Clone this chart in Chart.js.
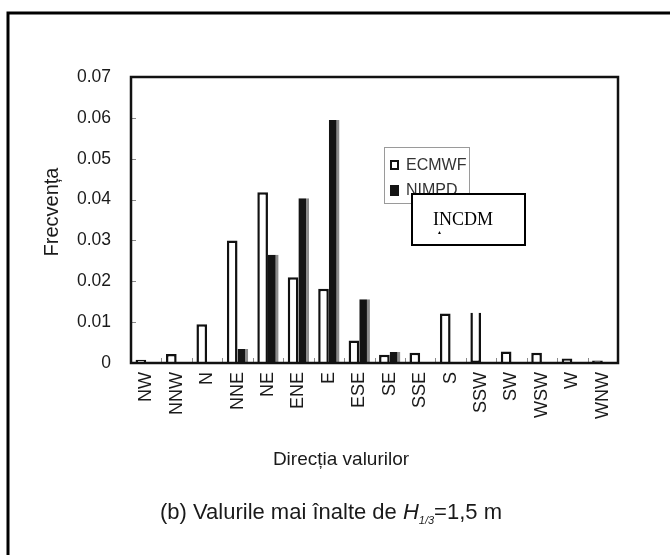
<!DOCTYPE html>
<html>
<head>
<meta charset="utf-8">
<title>Frecventa directiei valurilor</title>
<script src="https://cdn.jsdelivr.net/npm/chart.js@4.4.1/dist/chart.umd.min.js"></script>
<style>
    html, body {
        margin: 0;
        padding: 0;
        background: #fff;
    }
    #wrap {
        width: 670px;
        height: 555px;
    }
</style>
</head>
<body>
<div id="wrap">
    <canvas id="freqChart" width="670" height="555"></canvas>
</div>
<script>
// ===============================
// DATA
// ===============================

const directions = [
    'NW', 'NNW', 'N', 'NNE', 'NE', 'ENE', 'E', 'ESE',
    'SE', 'SSE', 'S', 'SSW', 'SW', 'WSW', 'W', 'WNW'
];

const ecmwf = [
    0.0008, 0.0022, 0.0095, 0.0300, 0.0418, 0.0210, 0.0182, 0.0055,
    0.0020, 0.0025, 0.0121, 0.0123, 0.0028, 0.0025, 0.0011, 0.0006
];

const nimpd = [
    0, 0, 0, 0.0034, 0.0265, 0.0403, 0.0595, 0.0156,
    0.0027, 0, 0, 0, 0, 0, 0, 0
];

const yTicks = [0, 0.01, 0.02, 0.03, 0.04, 0.05, 0.06, 0.07];

const FONT = '"Liberation Sans", Arial, sans-serif';
Chart.defaults.font.family = FONT;
Chart.defaults.color = '#1a1a1a';

// ===============================
// FRAME, INSIDE TICKS, LEGEND, TEXTS
// ===============================

const decorations = {
    id: 'decorations',

    afterDatasetsDraw(chart) {
        const { ctx, chartArea: a, scales: { x, y } } = chart;
        ctx.save();

        // small ticks pointing inside the plot
        ctx.strokeStyle = '#8a8a8a';
        ctx.lineWidth = 1;
        yTicks.forEach(v => {
            if (v <= yTicks[0] || v >= yTicks[yTicks.length - 1]) return;
            const py = Math.round(y.getPixelForValue(v)) + 0.5;
            ctx.beginPath();
            ctx.moveTo(a.left, py);
            ctx.lineTo(a.left + 5, py);
            ctx.stroke();
        });
        const step = x.getPixelForValue(1) - x.getPixelForValue(0);
        for (let i = 1; i < directions.length; i++) {
            const px = Math.round(x.getPixelForValue(i) - step / 2) + 0.5;
            ctx.beginPath();
            ctx.moveTo(px, a.bottom);
            ctx.lineTo(px, a.bottom - 5);
            ctx.stroke();
        }

        // plot box
        ctx.strokeStyle = '#111';
        ctx.lineWidth = 2.5;
        ctx.strokeRect(a.left, a.top, a.right - a.left, a.bottom - a.top);
        ctx.restore();
    },

    afterDraw(chart) {
        const { ctx, chartArea: a } = chart;
        ctx.save();

        // legend box
        const lx = a.left + 253;
        const ly = a.top + 70;
        ctx.fillStyle = '#fff';
        ctx.fillRect(lx, ly, 85, 56);
        ctx.strokeStyle = '#9a9a9a';
        ctx.lineWidth = 1;
        ctx.strokeRect(lx + 0.5, ly + 0.5, 85, 56);

        ctx.font = '16px ' + FONT;
        ctx.textBaseline = 'middle';
        ctx.textAlign = 'left';
        chart.data.datasets.forEach((ds, i) => {
            const cy = ly + 18 + i * 25;
            if (i === 0) {
                ctx.fillStyle = '#fff';
                ctx.fillRect(lx + 6, cy - 5, 9, 10);
                ctx.strokeStyle = '#111';
                ctx.lineWidth = 2;
                ctx.strokeRect(lx + 7, cy - 4, 7, 8);
            } else {
                ctx.fillStyle = ds.backgroundColor;
                ctx.fillRect(lx + 6, cy - 5, 9, 11);
            }
            ctx.fillStyle = '#333';
            ctx.fillText(ds.label, lx + 22, cy + 1);
        });

        // INCDM box over the legend
        const bx = a.left + 281;
        const by = a.top + 117;
        ctx.fillStyle = '#fff';
        ctx.fillRect(bx, by, 113, 51);
        ctx.strokeStyle = '#000';
        ctx.lineWidth = 2;
        ctx.strokeRect(bx, by, 113, 51);
        ctx.fillStyle = '#000';
        ctx.font = '18px "Liberation Serif", "Times New Roman", serif';
        ctx.textBaseline = 'alphabetic';
        ctx.fillText('INCDM', bx + 21, by + 31);
        ctx.font = '5px ' + FONT;
        ctx.fillText('\u25B2', bx + 25, by + 40);

        // y axis title
        ctx.fillStyle = '#1a1a1a';
        ctx.font = '20px ' + FONT;
        ctx.textAlign = 'center';
        ctx.textBaseline = 'middle';
        ctx.save();
        ctx.translate(52, 212);
        ctx.rotate(-Math.PI / 2);
        ctx.fillText('Frecvența', 0, 0);
        ctx.restore();

        // x axis title
        ctx.font = '19px ' + FONT;
        ctx.fillText('Direcția valurilor', 341, 460);

        // caption with H 1/3
        const parts = [
            { t: '(b) Valurile mai înalte de ', f: '22px ' + FONT, dy: 0 },
            { t: 'H', f: 'italic 22px ' + FONT, dy: 0 },
            { t: '1/3', f: 'italic 11px ' + FONT, dy: 5 },
            { t: '=1,5 m', f: '22px ' + FONT, dy: 0 }
        ];
        let total = 0;
        parts.forEach(p => {
            ctx.font = p.f;
            p.w = ctx.measureText(p.t).width;
            total += p.w;
        });
        let cx = 331 - total / 2;
        ctx.textAlign = 'left';
        ctx.textBaseline = 'alphabetic';
        parts.forEach(p => {
            ctx.font = p.f;
            ctx.fillText(p.t, cx, 519 + p.dy);
            cx += p.w;
        });

        // outer frame (left and top edges)
        ctx.strokeStyle = '#000';
        ctx.lineWidth = 3;
        ctx.beginPath();
        ctx.moveTo(8, chart.height);
        ctx.lineTo(8, 13);
        ctx.lineTo(chart.width, 13);
        ctx.stroke();

        ctx.restore();
    }
};

// ===============================
// CHART
// ===============================

const freqCtx = document.getElementById('freqChart');

new Chart(freqCtx, {
    type: 'bar',
    data: {
        labels: directions,
        datasets: [
            {
                label: 'ECMWF',
                data: ecmwf,
                backgroundColor: '#fff',
                borderColor: '#111',
                borderWidth: 2.5,
                borderSkipped: ctx =>
                    directions[ctx.dataIndex] === 'SSW' ? 'top' : 'start',
                categoryPercentage: 0.7,
                barPercentage: 1.0
            },
            {
                label: 'NIMPD',
                data: nimpd,
                backgroundColor: '#141414',
                borderColor: '#8c8c8c',
                borderWidth: { top: 0, right: 3, bottom: 0, left: 0 },
                borderSkipped: false,
                categoryPercentage: 0.7,
                barPercentage: 1.0
            }
        ]
    },
    options: {
        responsive: false,
        animation: false,
        devicePixelRatio: 1,

        layout: {
            padding: { left: 30, top: 77, right: 52, bottom: 112 }
        },

        plugins: {
            legend: { display: false },
            tooltip: { enabled: false }
        },

        scales: {
            x: {
                grid: { display: false, drawTicks: false },
                border: { display: false },
                ticks: {
                    autoSkip: false,
                    maxRotation: 90,
                    minRotation: 90,
                    padding: 9,
                    color: '#1a1a1a',
                    font: { size: 18 }
                },
                afterFit(scale) {
                    scale.height = 80;
                }
            },
            y: {
                min: 0,
                max: 0.07,
                grid: { display: false, drawTicks: false },
                border: { display: false },
                afterBuildTicks(scale) {
                    scale.ticks = yTicks.map(v => ({ value: v }));
                },
                ticks: {
                    padding: 20,
                    color: '#1a1a1a',
                    font: { size: 17.5 },
                    callback: v => (v === 0 ? '0' : v.toFixed(2))
                },
                afterFit(scale) {
                    scale.width = 101;
                }
            }
        }
    },
    plugins: [decorations]
});
</script>
</body>
</html>
